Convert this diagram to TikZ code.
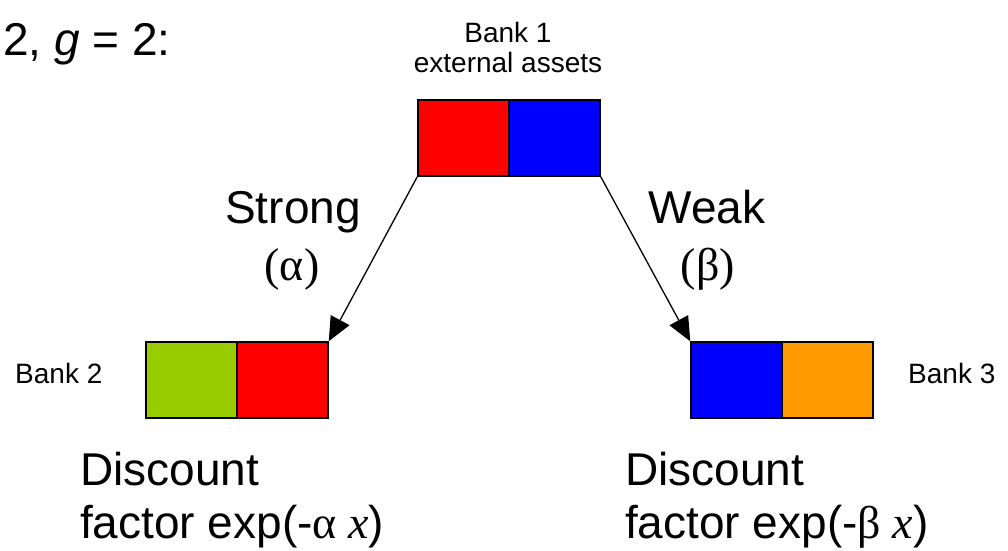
\documentclass[tikz,border=0pt]{standalone}
\usepackage{fontspec}
\setmainfont{Liberation Sans}
\newfontfamily\tms{Liberation Serif}
\usetikzlibrary{arrows.meta}
\definecolor{cred}{RGB}{255,0,0}
\definecolor{cblue}{RGB}{0,0,255}
\definecolor{cgreen}{RGB}{153,204,0}
\definecolor{corange}{RGB}{255,153,0}
\tikzset{
  cell/.style={draw=black, line width=1.5pt, minimum width=91pt, minimum height=76pt, inner sep=0pt},
  big/.style={font=\fontsize{46}{50}\selectfont, inner sep=0pt},
  small/.style={font=\fontsize{28}{30}\selectfont, inner sep=0pt},
  link/.style={line width=1.3pt, -{Triangle[length=24pt,width=21pt]}, shorten >=0pt}
}
\begin{document}
\begin{tikzpicture}[x=1pt,y=-1pt]
\useasboundingbox (0,0) rectangle (1008,550);
% Bank 1
\node[cell, fill=cred]  (b1a) at (463.5,138) {};
\node[cell, fill=cblue] (b1b) at (554.5,138) {};
% Bank 2
\node[cell, fill=cgreen] (b2a) at (191.5,380) {};
\node[cell, fill=cred]   (b2b) at (282.5,380) {};
% Bank 3
\node[cell, fill=cblue]   (b3a) at (736.5,380) {};
\node[cell, fill=corange] (b3b) at (827.5,380) {};
% arrows
\draw[link] (b1a.south west) -- (b2b.north east);
\draw[link] (b1b.south east) -- (b3a.north west);
% texts
\node[big, anchor=base west] (title) at (3,55) {2, \textit{g} = 2:};
\node[small, anchor=base] (b1l1) at (508,42) {Bank 1};
\node[small, anchor=base] (b1l2) at (508,72) {external assets};
\node[small, anchor=base west] (b2l) at (15,383) {Bank 2};
\node[small, anchor=base west] (b3l) at (908,383) {Bank 3};
\node[big, anchor=base] (strong) at (293,223) {Strong};
\node[big, anchor=base] (alpha) at (292,280) {\tms(α)};
\node[big, anchor=base] (weak) at (707,223) {Weak};
\node[big, anchor=base] (beta) at (708,280) {\tms(β)};
\node[big, anchor=base west] (d2a) at (80,485) {Discount};
\node[big, anchor=base west] (d2b) at (80,538) {factor exp(-{\tms α \textit{x}})};
\node[big, anchor=base west] (d3a) at (625,485) {Discount};
\node[big, anchor=base west] (d3b) at (625,538) {factor exp(-{\tms β \textit{x}})};
\end{tikzpicture}
\end{document}
